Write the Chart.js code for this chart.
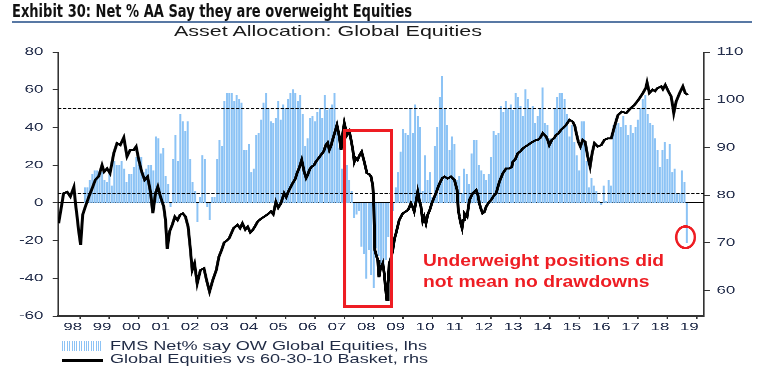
<!DOCTYPE html>
<html>
<head>
<meta charset="utf-8">
<script src="https://cdn.jsdelivr.net/npm/chart.js@4.4.1/dist/chart.umd.min.js"></script>
<style>
  html, body { margin: 0; padding: 0; background: #fff; }
  #page { position: relative; width: 766px; height: 386px; overflow: hidden; font-family: 'Liberation Sans', Arial, sans-serif; }
  /* the source picture is stretched sideways, so the chart is drawn narrow and widened */
  #chartBox { position: absolute; left: 0; top: 0; width: 511px; height: 386px; transform-origin: 0 0; }
  .txt { position: absolute; white-space: nowrap; line-height: 1; transform-origin: 0 0; }
  #title { left: 12px; top: 3px; font-weight: bold; font-size: 17px; font-family: 'Liberation Sans Narrow', 'DejaVu Sans Condensed', sans-serif; color: #111; }
  #rule { position: absolute; left: 12px; top: 21px; width: 740px; height: 2.3px; background: #5878a4; }
  #subtitle { left: 174px; top: 24.4px; font-size: 14.5px; color: #1a1a1a; }
  .leg { left: 110px; font-size: 12.6px; color: #1f2a44; }
  #leg1 { top: 340px; }
  #leg2 { top: 353.3px; }
  #legBars { position: absolute; left: 62px; top: 341px; width: 41px; height: 10px;
    background: repeating-linear-gradient(to right, #8cc3f5 0 1px, transparent 1px 2.4px); }
  #legLine { position: absolute; left: 62px; top: 359px; width: 41px; height: 2.5px; background: #000; }
  .note { left: 422.7px; font-size: 16px; font-weight: bold; color: #ee1d23; }
  #note1 { top: 253.2px; }
  #note2 { top: 274.2px; }
</style>
</head>
<body>
<div id="page">
  <div id="chartBox"><canvas id="chart"></canvas></div>
  <div class="txt" id="title">Exhibit 30: Net % AA Say they are overweight Equities</div>
  <div id="rule"></div>
  <div class="txt" id="subtitle">Asset Allocation: Global Equities</div>
  <div id="legBars"></div>
  <div class="txt leg" id="leg1">FMS Net% say OW Global Equities, lhs</div>
  <div id="legLine"></div>
  <div class="txt leg" id="leg2">Global Equities vs 60-30-10 Basket, rhs</div>
  <div class="txt note" id="note1">Underweight positions did</div>
  <div class="txt note" id="note2">not mean no drawdowns</div>
</div>
<script>
// FMS net % overweight global equities, monthly from Dec 1998 (lhs)
const fmsNet = [
  8, 8, 12, 15, 17, 17, 14, 16, 12, 11,
  16, 9, 22, 20, 20, 22, 18, 11, 15, 15,
  19, 24, 20, 24, 16, 18, 20, 20, 17, 35,
  34, 26, 29, 14, 10, -2, 23, 36, 22, 47,
  43, 38, 43, 23, 11, 6, -10, 3, 25, 23,
  -2, -9, 3, 3,
  23, 33, 30, 54, 58, 58, 58, 54, 57, 55,
  53, 28, 28, 31, 16, 18, 36, 37, 44, 53,
  58, 50, 43, 42, 45, 54, 44, 52, 50, 55,
  58, 60, 58, 54, 57, 47, 30, 34, 45, 46,
  43, 48, 50, 45, 57, 49, 50, 52, 58, 42,
  29, 18, 22, 20, 12, 6, -8, -6, -4, -23,
  -27, -40, -25, -38, -45, -24, -28, -35, -34, -30,
  -18, -10, -4,
  8, 16, 27, 39, 37, 36, 50, 37, 52, 46,
  40, 6, 25, 12, 16, 3, 30, 40, 56, 67,
  50, 41, 28, 35, 31, 12, 14, 5, 18, 15,
  10, 26, 33, 33, 20, 17, 15, 12, 15, 24,
  38, 36, 37, 51, 48, 54, 50, 52, 49,
  58, 56, 51, 46, 60, 55, 50, 51, 42, 46,
  50, 61, 42, 41, 34, 34, 50, 56, 58, 58,
  55, 47, 35, 41, 32, 25, 17, 43, 43, 22,
  8, 13, 9, 6, 1, -1, 9, 1, 12, 9,
  41, 45, 42, 40, 46, 41, 36, 41, 37, 40,
  44, 50, 55, 57, 47, 42, 41, 34, 28, 19,
  28, 32, 23, 31, 16, 18, 5, 5, 17, 11,
  -21
];
const fmsFirstYear = 1998;
const fmsFirstMonth = 12;

// Global equities vs 60-30-10 basket (rhs), date as decimal year
const basketDates = [
  1998.02, 1998.10, 1998.19, 1998.31, 1998.42, 1998.54, 1998.60, 1998.65, 1998.70, 1998.77,
  1998.84, 1998.93, 1999.05, 1999.16, 1999.27, 1999.39, 1999.50, 1999.57, 1999.67, 1999.77,
  1999.90, 2000.01, 2000.12, 2000.24, 2000.35, 2000.46, 2000.58, 2000.66, 2000.75, 2000.85,
  2000.95, 2001.05, 2001.15, 2001.23, 2001.32, 2001.40, 2001.49, 2001.60, 2001.66, 2001.72,
  2001.80, 2001.89, 2001.98, 2002.07, 2002.16, 2002.25, 2002.34, 2002.43, 2002.50, 2002.57,
  2002.65, 2002.74, 2002.85, 2002.97, 2003.06, 2003.16, 2003.27, 2003.39, 2003.48, 2003.57,
  2003.66, 2003.75, 2003.83, 2003.98, 2004.11, 2004.20, 2004.28, 2004.38, 2004.46, 2004.55,
  2004.63, 2004.72, 2004.80, 2004.92, 2005.02, 2005.14, 2005.25, 2005.33, 2005.42, 2005.50,
  2005.59, 2005.70, 2005.77, 2005.84, 2005.99, 2006.08, 2006.14, 2006.22, 2006.30, 2006.38,
  2006.45, 2006.50, 2006.57, 2006.64, 2006.72, 2006.78, 2006.88, 2006.95, 2007.05, 2007.12,
  2007.18, 2007.24, 2007.30, 2007.35, 2007.42, 2007.50, 2007.58, 2007.64, 2007.70, 2007.75,
  2007.84, 2007.92, 2007.98, 2008.04, 2008.09, 2008.14, 2008.20, 2008.28, 2008.34, 2008.43,
  2008.52, 2008.60, 2008.66, 2008.72, 2008.75, 2008.79, 2008.84, 2008.89, 2008.93, 2008.97,
  2009.06, 2009.11, 2009.15, 2009.20, 2009.24, 2009.28, 2009.34, 2009.40, 2009.46, 2009.51,
  2009.62, 2009.74, 2009.85, 2009.93, 2010.02, 2010.08, 2010.13, 2010.20, 2010.25, 2010.30,
  2010.36, 2010.42, 2010.47, 2010.53, 2010.59, 2010.66, 2010.73, 2010.80, 2010.87, 2010.95,
  2011.02, 2011.09, 2011.16, 2011.27, 2011.38, 2011.50, 2011.59, 2011.63, 2011.67, 2011.72,
  2011.76, 2011.80, 2011.84, 2011.93, 2012.01, 2012.12, 2012.24, 2012.30, 2012.35, 2012.40,
  2012.46, 2012.52, 2012.58, 2012.66, 2012.75, 2012.83, 2012.92, 2013.03, 2013.15, 2013.26,
  2013.37, 2013.45, 2013.49, 2013.57, 2013.66, 2013.75, 2013.83, 2013.92, 2014.00, 2014.09,
  2014.17, 2014.26, 2014.34, 2014.42, 2014.51, 2014.62, 2014.68, 2014.73, 2014.82, 2014.90,
  2014.96, 2015.05, 2015.13, 2015.22, 2015.30, 2015.42, 2015.53, 2015.60, 2015.64, 2015.72,
  2015.79, 2015.87, 2015.95, 2016.04, 2016.12, 2016.19, 2016.27, 2016.38, 2016.50, 2016.61,
  2016.72, 2016.84, 2016.95, 2017.07, 2017.20, 2017.35, 2017.50, 2017.63, 2017.77, 2017.92,
  2018.02, 2018.06, 2018.14, 2018.25, 2018.33, 2018.41, 2018.54, 2018.60, 2018.68, 2018.79,
  2018.88, 2018.94, 2018.97, 2019.05, 2019.17, 2019.28, 2019.36, 2019.45
];
const basketValues = [
  74.1, 77.0, 80.4, 80.7, 79.7, 81.7, 78.0, 75.5, 72.7, 69.6,
  75.9, 77.6, 79.7, 81.4, 83.2, 84.0, 86.3, 84.9, 85.6, 84.6,
  88.8, 90.9, 90.5, 92.1, 88.1, 89.5, 89.5, 90.2, 87.4, 84.9,
  83.2, 83.9, 80.7, 76.2, 80.4, 81.8, 79.7, 77.6, 74.8, 68.7,
  72.4, 73.8, 75.5, 74.8, 75.9, 76.2, 75.5, 73.4, 69.2, 64.3,
  65.7, 61.5, 64.3, 64.7, 62.2, 59.8, 62.2, 64.3, 67.1, 68.5,
  70.1, 70.5, 71.0, 73.1, 73.8, 73.1, 74.1, 72.8, 73.4, 72.2,
  72.7, 73.6, 74.5, 75.1, 75.5, 76.0, 76.6, 76.0, 78.6, 77.4,
  78.3, 80.4, 79.6, 80.7, 82.5, 83.4, 84.6, 85.8, 87.4, 85.0,
  83.6, 84.2, 85.4, 86.0, 86.3, 87.0, 87.8, 88.4, 89.2, 90.5,
  91.0, 89.5, 90.4, 91.6, 93.0, 94.7, 92.3, 89.5, 93.0, 95.1,
  92.6, 93.4, 91.6, 89.5, 87.0, 87.8, 87.4, 88.5, 89.1, 87.0,
  84.6, 84.4, 83.9, 82.0, 79.0, 68.5, 67.4, 66.4, 62.8, 64.3,
  65.7, 63.6, 60.8, 58.0, 61.4, 65.7, 66.8, 68.5, 70.9, 72.0,
  74.8, 76.2, 76.6, 77.0, 78.3, 77.5, 76.6, 78.9, 80.7, 79.0,
  77.6, 74.6, 75.5, 74.1, 75.9, 76.9, 78.3, 79.4, 80.4, 81.8,
  82.8, 83.6, 83.9, 83.5, 83.9, 83.2, 81.1, 77.0, 75.5, 74.0,
  73.1, 74.8, 76.2, 75.5, 79.0, 80.4, 81.1, 80.0, 78.3, 77.2,
  76.2, 76.5, 77.6, 78.4, 79.0, 79.8, 80.4, 82.8, 84.6, 85.6,
  85.6, 85.9, 87.0, 87.5, 88.8, 89.2, 89.8, 90.2, 90.5, 90.9,
  91.2, 91.5, 91.6, 92.0, 93.0, 92.3, 91.5, 90.5, 91.6, 92.0,
  92.6, 93.0, 93.7, 94.2, 94.7, 95.8, 95.4, 94.5, 93.3, 91.2,
  90.2, 91.6, 91.2, 88.1, 86.0, 88.8, 90.9, 90.2, 90.5, 91.6,
  91.9, 91.9, 94.4, 96.8, 97.5, 97.2, 98.2, 98.9, 100.0, 101.4,
  102.5, 103.6, 101.4, 102.1, 101.8, 102.4, 102.8, 102.2, 103.1, 101.7,
  100.7, 98.5, 97.2, 99.6, 101.4, 102.8, 101.4, 101.0
];

const yearLabels = ['98', '99', '00', '01', '02', '03', '04', '05', '06', '07', '08',
  '09', '10', '11', '12', '13', '14', '15', '16', '17', '18', '19'];
const leftTicks = [-60, -40, -20, 0, 20, 40, 60, 80];
const rightTicks = [60, 70, 80, 90, 100, 110];
const dashedLevels = [50, 5];

// highlighted drawdown box and the latest reading circle (dates, lhs values)
const boxDates = [2007.755, 2009.356];
const boxValues = [38.4, -54.9];
const circleAt = [2019.37, -18.2];

const STRETCH = 766 / 511;
document.getElementById('chartBox').style.transform = 'scaleX(' + STRETCH + ')';

const fmsDates = fmsNet.map((v, i) => fmsFirstYear + (fmsFirstMonth - 1 + i) / 12);
const xTicks = [];
for (let y = 1998; y <= 2020; y++) {
  xTicks.push({value: y});
  if (y < 2020) xTicks.push({value: y + 0.5});
}
const span = [1998, 2020];

Chart.defaults.font.family = "'Liberation Sans', Arial, sans-serif";
Chart.defaults.font.size = 11.2;
Chart.defaults.color = '#26304d';

const redMarks = {
  id: 'redMarks',
  afterDatasetsDraw(chart) {
    const {ctx, scales: {x, y}} = chart;
    const x0 = x.getPixelForValue(boxDates[0]);
    const x1 = x.getPixelForValue(boxDates[1]);
    const y0 = y.getPixelForValue(boxValues[0]);
    const y1 = y.getPixelForValue(boxValues[1]);
    const hw = 3.3 / STRETCH / 2;
    const hh = 3.3 / 2;
    ctx.save();
    ctx.fillStyle = '#ee1d23';
    ctx.fillRect(x0 - hw, y0 - hh, x1 - x0 + 2 * hw, 2 * hh);
    ctx.fillRect(x0 - hw, y1 - hh, x1 - x0 + 2 * hw, 2 * hh);
    ctx.fillRect(x0 - hw, y0, 2 * hw, y1 - y0);
    ctx.fillRect(x1 - hw, y0, 2 * hw, y1 - y0);
    ctx.translate(x.getPixelForValue(circleAt[0]), y.getPixelForValue(circleAt[1]));
    ctx.scale(1 / STRETCH, 1);
    ctx.beginPath();
    ctx.ellipse(0, 0, 9.3, 10.8, 0, 0, Math.PI * 2);
    ctx.strokeStyle = '#ee1d23';
    ctx.lineWidth = 2.5;
    ctx.stroke();
    ctx.restore();
  }
};

const flatLine = (level, opts) => Object.assign({
  type: 'line',
  data: span.map(d => ({x: d, y: level})),
  yAxisID: 'y',
  borderColor: '#000',
  borderWidth: 1,
  pointRadius: 0
}, opts);

new Chart(document.getElementById('chart'), {
  type: 'bar',
  data: {
    datasets: [
      {
        type: 'line',
        label: 'Global Equities vs 60-30-10 Basket, rhs',
        data: basketDates.map((d, i) => ({x: d, y: basketValues[i]})),
        yAxisID: 'y1',
        borderColor: '#000',
        borderWidth: 2,
        pointRadius: 0,
        tension: 0,
        order: 0
      },
      flatLine(dashedLevels[0], {borderDash: [2.2, 1.1], borderWidth: 1.2, order: 1}),
      flatLine(dashedLevels[1], {borderDash: [2.2, 1.1], borderWidth: 1.2, order: 1}),
      {
        label: 'FMS Net% say OW Global Equities, lhs',
        data: fmsDates.map((d, i) => ({x: d, y: fmsNet[i]})),
        yAxisID: 'y',
        backgroundColor: '#8cc3f5',
        borderWidth: 0,
        barThickness: 1 / STRETCH,
        order: 2
      },
      flatLine(0, {order: 3})
    ]
  },
  options: {
    responsive: true,
    maintainAspectRatio: false,
    devicePixelRatio: 3,
    animation: false,
    events: [],
    layout: {padding: {top: 52, left: 0, right: 0, bottom: 0}},
    plugins: {legend: {display: false}, tooltip: {enabled: false}},
    scales: {
      x: {
        type: 'linear',
        min: span[0],
        max: span[1],
        offset: false,
        afterBuildTicks: s => { s.ticks = xTicks.map(t => ({value: t.value})); },
        afterFit: s => { s.height = 70; },
        ticks: {
          autoSkip: false,
          maxRotation: 0,
          padding: 1.6,
          callback: v => Number.isInteger(v) ? '' : yearLabels[Math.floor(v) - 1998]
        },
        grid: {
          drawOnChartArea: false,
          tickLength: 3,
          tickWidth: 1,
          tickColor: c => (c.tick && Number.isInteger(c.tick.value)) ? '#333' : 'rgba(0,0,0,0)'
        },
        border: {color: '#333', width: 1.5}
      },
      y: {
        type: 'linear',
        position: 'left',
        min: -60,
        max: 80,
        afterBuildTicks: s => { s.ticks = leftTicks.map(v => ({value: v})); },
        afterFit: s => { s.width = 58 / STRETCH; },
        ticks: {padding: 6.3},
        grid: {drawOnChartArea: false, tickLength: 3.5, tickColor: '#333'},
        border: {color: '#333', width: 1}
      },
      y1: {
        type: 'linear',
        position: 'right',
        min: 54.7,
        max: 110,
        afterBuildTicks: s => { s.ticks = rightTicks.map(v => ({value: v})); },
        afterFit: s => { s.width = 511 - 704 / STRETCH; },
        ticks: {padding: 4.4},
        grid: {drawOnChartArea: false, tickLength: 4, tickColor: '#333'},
        border: {color: '#333', width: 1}
      }
    }
  },
  plugins: [redMarks]
});

// squeeze or widen each text to the width it has in the picture
function fitText(id, width) {
  const el = document.getElementById(id);
  const w = el.getBoundingClientRect().width;
  el.style.transform = 'scaleX(' + (width / w) + ')';
  return width / w;
}
fitText('title', 400);
fitText('subtitle', 308);
const legScale = fitText('leg1', 317);
document.getElementById('leg2').style.transform = 'scaleX(' + legScale + ')';
fitText('note1', 241);
fitText('note2', 226.6);
</script>
</body>
</html>
